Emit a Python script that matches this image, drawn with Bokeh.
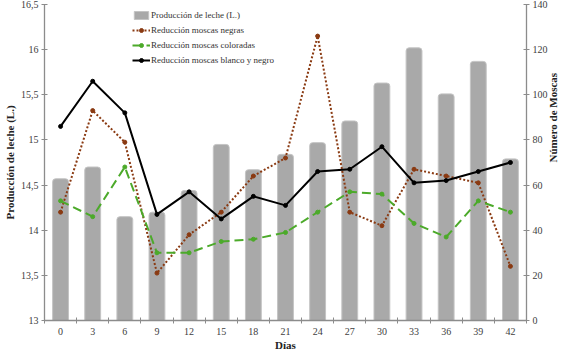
import math
from bokeh.plotting import figure
from bokeh.models import Range1d, LinearAxis, FixedTicker, Legend, LegendItem
from bokeh.embed import file_html
from bokeh.resources import INLINE

dias = [0, 3, 6, 9, 12, 15, 18, 21, 24, 27, 30, 33, 36, 39, 42]
produccion_leche = [14.57, 14.70, 14.15, 14.20, 14.44, 14.95, 14.67, 14.84,
                    14.97, 15.21, 15.63, 16.02, 15.51, 15.87, 14.79]
moscas_negras = [48, 93, 79, 21, 38, 48, 64, 72, 126, 48, 42, 67, 64, 61, 24]
moscas_coloradas = [53, 46, 68, 30, 30, 35, 36, 39, 48, 57, 56, 43, 37, 53, 48]
moscas_blanco_negro = [86, 106, 92, 47, 57, 45, 55, 51, 66, 67, 77, 61, 62, 66, 70]
left_ticks = [13, 13.5, 14, 14.5, 15, 15.5, 16, 16.5]
left_labels = ["13", "13,5", "14", "14,5", "15", "15,5", "16", "16,5"]
right_ticks = [0, 20, 40, 60, 80, 100, 120, 140]

FONT = "'Liberation Serif', 'Times New Roman', serif"
AXIS_COLOR = "#8c8c8c"
LABEL_COLOR = "#404040"

p = figure(frame_width=482, frame_height=316, output_backend="svg",
           toolbar_location=None,
           x_range=Range1d(-1.5, 43.5), y_range=Range1d(13, 16.5),
           min_border_top=4, min_border_left=2, min_border_right=2,
           min_border_bottom=2)
p.extra_y_ranges = {"moscas": Range1d(0, 140)}
p.grid.visible = False
p.outline_line_color = None
p.background_fill_color = "white"

bars = p.vbar(x=dias, top=produccion_leche, bottom=13, width=1.48,
              fill_color="#a9a9a9", line_color="#c4c4c4", line_width=1,
              border_radius=(3, 3, 0, 0))
l_neg = p.line(dias, moscas_negras, y_range_name="moscas", line_color="#8a3a12",
               line_width=2, line_dash="2 2")
c_neg = p.scatter(dias, moscas_negras, y_range_name="moscas", size=4,
                  fill_color="#8a3a12", line_color="#8a3a12")
l_col = p.line(dias, moscas_coloradas, y_range_name="moscas", line_color="#4caa2a",
               line_width=2, line_dash="9 5")
c_col = p.scatter(dias, moscas_coloradas, y_range_name="moscas", size=4,
                  fill_color="#4caa2a", line_color="#4caa2a")
l_bn = p.line(dias, moscas_blanco_negro, y_range_name="moscas", line_color="black",
              line_width=2)
c_bn = p.scatter(dias, moscas_blanco_negro, y_range_name="moscas", size=4,
                 fill_color="black", line_color="black")

# X axis
xa = p.xaxis[0]
xa.ticker = FixedTicker(ticks=dias, minor_ticks=[d - 1.5 for d in dias] + [43.5])
xa.axis_label = "Días"

# Left axis
ya = p.yaxis[0]
ya.ticker = FixedTicker(ticks=left_ticks, minor_ticks=[])
ya.major_label_overrides = {t: l for t, l in zip(left_ticks, left_labels)}
ya.axis_label = "Producción de leche (L.)"

# Right axis
ra = LinearAxis(y_range_name="moscas", axis_label="Número de Moscas",
                ticker=FixedTicker(ticks=right_ticks, minor_ticks=[]))
p.add_layout(ra, "right")
try:
    ra.axis_label_orientation = math.pi / 2
except AttributeError:
    pass

for ax in [xa, ya, ra]:
    ax.axis_line_color = AXIS_COLOR
    ax.axis_line_width = 1.3
    ax.major_tick_line_color = AXIS_COLOR
    ax.minor_tick_line_color = AXIS_COLOR
    ax.major_label_text_font = FONT
    ax.major_label_text_font_size = "10px"
    ax.major_label_text_color = LABEL_COLOR
    ax.axis_label_text_font = FONT
    ax.axis_label_text_font_size = "11px"
    ax.axis_label_text_font_style = "bold"
    ax.axis_label_text_color = "#222222"
    ax.major_label_standoff = 3
    ax.axis_label_standoff = 2

ra.axis_label_text_align = "center"

xa.major_tick_in = 0
xa.major_tick_out = 0
xa.minor_tick_in = 3
xa.minor_tick_out = 3
xa.major_label_standoff = 4
xa.axis_label_standoff = 1
for ax in [ya, ra]:
    ax.major_tick_in = 3
    ax.major_tick_out = 3
    ax.minor_tick_in = 0
    ax.minor_tick_out = 0

legend = Legend(items=[
    LegendItem(label="Producción de leche (L.)", renderers=[bars]),
    LegendItem(label="Reducción moscas negras", renderers=[l_neg, c_neg]),
    LegendItem(label="Reducción moscas coloradas", renderers=[l_col, c_col]),
    LegendItem(label="Reducción moscas blanco y negro", renderers=[l_bn, c_bn]),
], location=(88, 253))
legend.label_text_font = FONT
legend.label_text_font_size = "9px"
legend.label_text_color = "#333333"
legend.label_height = 14
legend.glyph_height = 10
legend.glyph_width = 18
legend.label_standoff = 1
legend.spacing = 1
legend.padding = 4
legend.margin = 0
legend.border_line_color = None
legend.background_fill_alpha = 0
p.add_layout(legend)

open("out.html", "w").write(file_html(p, INLINE))
